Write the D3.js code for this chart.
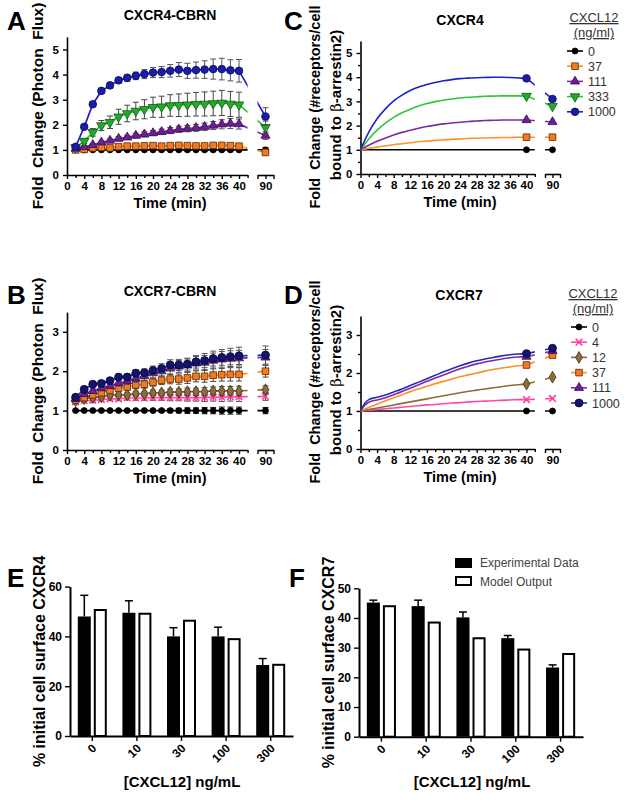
<!DOCTYPE html>
<html><head><meta charset="utf-8">
<script src="https://cdn.jsdelivr.net/npm/d3@7"></script>
<style>
body{margin:0;background:#fff;}
svg{display:block;font-family:"Liberation Sans",Arial,Helvetica,sans-serif;}
text.pre{white-space:pre;}
</style></head><body>
<svg id="fig" width="631" height="804"></svg>
<script>
// ---------------- DATA ----------------
const expTime = [2,4,6,8,10,12,14,16,18,20,22,24,26,28,30,32,34,36,38,40,90];
const modelTimeC = [0,2,4,6,8,10,12,14,16,18,20,22,24,26,28,30,32,34,36,38,40,90];
const modelTimeD = [0,1,2,4,6,8,10,12,14,16,18,20,22,24,26,28,30,32,34,36,38,40,90];
const xTickLabels = [0,4,8,12,16,20,24,28,32,36,40];
const breakTickLabels = [90];
const concCXCR4 = ["0","37","111","333","1000"];
const concCXCR7 = ["0","4","12","37","111","1000"];

// Panel A: CXCR4-CBRN (fold change, mean and error)
const A_0     = [1.00,1.00,1.00,1.00,1.00,1.00,1.00,1.00,1.00,1.00,1.00,1.00,1.00,1.00,1.00,1.00,1.00,1.00,1.00,1.00,1.00];
const A_0_err = [0.02,0.02,0.03,0.03,0.03,0.03,0.03,0.03,0.03,0.04,0.04,0.04,0.04,0.05,0.05,0.05,0.05,0.05,0.05,0.05,0.10];
const A_37     = [1.00,1.02,1.08,1.10,1.08,1.13,1.15,1.15,1.16,1.17,1.15,1.17,1.18,1.17,1.16,1.16,1.18,1.18,1.17,1.15,0.90];
const A_37_err = [0.03,0.04,0.05,0.05,0.05,0.06,0.06,0.06,0.06,0.07,0.07,0.07,0.07,0.07,0.08,0.08,0.08,0.08,0.08,0.08,0.10];
const A_111     = [1.05,1.12,1.20,1.30,1.37,1.45,1.50,1.57,1.62,1.67,1.72,1.77,1.82,1.85,1.88,1.92,1.97,2.02,2.05,2.03,1.57];
const A_111_err = [0.03,0.04,0.05,0.06,0.07,0.08,0.08,0.09,0.10,0.10,0.11,0.12,0.12,0.13,0.14,0.15,0.16,0.18,0.20,0.20,0.15];
const A_333     = [1.10,1.35,1.70,1.97,2.10,2.32,2.45,2.55,2.62,2.70,2.72,2.77,2.78,2.80,2.82,2.83,2.85,2.87,2.83,2.80,1.90];
const A_333_err = [0.05,0.10,0.15,0.20,0.25,0.30,0.33,0.35,0.38,0.40,0.42,0.43,0.45,0.46,0.47,0.48,0.49,0.50,0.50,0.50,0.25];
const A_1000     = [1.12,1.92,2.82,3.35,3.57,3.77,3.87,3.95,4.02,4.08,4.10,4.15,4.20,4.15,4.18,4.20,4.22,4.22,4.17,4.15,2.33];
const A_1000_err = [0.05,0.05,0.10,0.10,0.12,0.12,0.14,0.15,0.18,0.20,0.22,0.25,0.28,0.30,0.32,0.35,0.40,0.43,0.42,0.45,0.35];

// Panel B: CXCR7-CBRN
const B_0     = [1.00,1.00,1.00,1.00,1.00,1.00,1.00,1.00,1.00,1.00,1.00,1.00,1.00,1.00,1.00,1.00,1.00,1.00,1.00,1.00,1.00];
const B_0_err = [0.02,0.02,0.02,0.02,0.02,0.02,0.02,0.02,0.03,0.03,0.04,0.05,0.06,0.07,0.07,0.08,0.08,0.09,0.09,0.09,0.08];
const B_4     = [1.22,1.25,1.26,1.28,1.30,1.30,1.32,1.32,1.32,1.33,1.33,1.33,1.33,1.33,1.33,1.33,1.34,1.34,1.35,1.35,1.36];
const B_4_err = [0.03,0.03,0.04,0.04,0.05,0.05,0.05,0.06,0.06,0.07,0.07,0.08,0.08,0.09,0.09,0.10,0.10,0.11,0.11,0.12,0.10];
const B_12     = [1.25,1.30,1.33,1.35,1.40,1.40,1.40,1.43,1.43,1.45,1.45,1.47,1.47,1.48,1.48,1.48,1.50,1.50,1.50,1.50,1.53];
const B_12_err = [0.03,0.03,0.04,0.04,0.05,0.05,0.05,0.06,0.06,0.07,0.07,0.08,0.08,0.09,0.09,0.10,0.10,0.11,0.11,0.12,0.10];
const B_37     = [1.27,1.33,1.40,1.45,1.52,1.57,1.60,1.65,1.67,1.72,1.77,1.80,1.80,1.83,1.87,1.87,1.90,1.91,1.92,1.92,2.00];
const B_37_err = [0.03,0.04,0.05,0.05,0.06,0.07,0.08,0.09,0.10,0.10,0.11,0.12,0.13,0.14,0.14,0.15,0.16,0.16,0.17,0.17,0.15];
const B_111     = [1.30,1.42,1.50,1.57,1.63,1.70,1.75,1.82,1.88,1.95,2.00,2.07,2.12,2.15,2.20,2.22,2.27,2.30,2.32,2.33,2.35];
const B_111_err = [0.04,0.04,0.05,0.06,0.07,0.08,0.09,0.10,0.11,0.12,0.13,0.14,0.15,0.16,0.17,0.18,0.19,0.20,0.20,0.20,0.20];
const B_1000     = [1.34,1.54,1.67,1.69,1.76,1.85,1.85,1.95,1.96,2.02,2.07,2.16,2.16,2.18,2.24,2.27,2.32,2.35,2.37,2.39,2.41];
const B_1000_err = [0.04,0.04,0.05,0.05,0.06,0.07,0.08,0.09,0.10,0.11,0.12,0.13,0.14,0.15,0.16,0.18,0.19,0.20,0.21,0.22,0.23];

// Panel C: CXCR4 model
const C_0    = [1.00,1.00,1.00,1.00,1.00,1.00,1.00,1.00,1.00,1.00,1.00,1.00,1.00,1.00,1.00,1.00,1.00,1.00,1.00,1.00,1.00,1.00];
const C_37   = [1.00,1.06,1.11,1.16,1.21,1.25,1.29,1.33,1.36,1.39,1.41,1.43,1.45,1.47,1.48,1.49,1.50,1.51,1.51,1.52,1.52,1.52];
const C_111  = [1.00,1.19,1.35,1.49,1.61,1.72,1.81,1.89,1.96,2.02,2.07,2.11,2.14,2.17,2.19,2.21,2.22,2.23,2.23,2.23,2.23,2.15];
const C_333  = [1.00,1.45,1.81,2.10,2.34,2.53,2.68,2.81,2.91,2.99,3.05,3.10,3.14,3.17,3.19,3.21,3.22,3.23,3.23,3.23,3.22,2.80];
const C_1000 = [1.00,1.73,2.28,2.69,3.02,3.26,3.45,3.59,3.70,3.78,3.85,3.90,3.94,3.96,3.98,3.99,4.00,4.00,3.99,3.97,3.95,3.10];

// Panel D: CXCR7 model
const D_0    = [1.00,1.00,1.00,1.00,1.00,1.00,1.00,1.00,1.00,1.00,1.00,1.00,1.00,1.00,1.00,1.00,1.00,1.00,1.00,1.00,1.00,1.00,1.00];
const D_4    = [1.00,1.01,1.02,1.04,1.06,1.08,1.10,1.12,1.14,1.16,1.17,1.19,1.21,1.22,1.24,1.25,1.26,1.27,1.28,1.29,1.30,1.30,1.33];
const D_12   = [1.00,1.02,1.04,1.08,1.12,1.16,1.20,1.24,1.28,1.32,1.36,1.40,1.44,1.48,1.52,1.55,1.58,1.61,1.64,1.67,1.69,1.71,1.89];
const D_37   = [1.00,1.05,1.09,1.18,1.27,1.35,1.43,1.51,1.58,1.65,1.72,1.78,1.84,1.90,1.95,2.00,2.05,2.09,2.13,2.16,2.19,2.21,2.47];
const D_111  = [1.00,1.15,1.23,1.29,1.35,1.43,1.51,1.60,1.69,1.78,1.87,1.95,2.03,2.11,2.18,2.24,2.29,2.33,2.37,2.40,2.42,2.43,2.58];
const D_1000 = [1.00,1.20,1.30,1.36,1.42,1.50,1.58,1.67,1.76,1.85,1.94,2.03,2.11,2.19,2.26,2.32,2.37,2.41,2.45,2.48,2.50,2.51,2.65];

// Panels E/F: surface receptor bars
const concBars = ["0","10","30","100","300"];
const barSeries = ["Experimental Data","Model Output"];
const E_exp     = [48.0,49.5,40.0,40.0,28.5];
const E_exp_err = [8.5,4.8,3.5,3.7,2.6];
const E_model   = [51.0,49.5,46.7,39.3,29.0];
const F_exp     = [45.2,44.0,40.2,33.2,23.3];
const F_exp_err = [0.8,2.0,1.8,0.9,0.9];
const F_model   = [44.3,38.8,33.5,29.7,28.2];

// ---------------- STYLES ----------------
const STY = {
  black : {line:"#000000", fill:"#000000", stroke:"#000000", sym:d3.symbolCircle,  size:28, err:"#222"},
  orange: {line:"#ff8f2a", fill:"#f47a1f", stroke:"#5c2a00", sym:d3.symbolSquare,  size:44, err:"#444"},
  purple: {line:"#7a2ca0", fill:"#6c1f90", stroke:"#3a0a55", sym:d3.symbolTriangle,size:36, err:"#555"},
  green : {line:"#2ec63a", fill:"#22aa2a", stroke:"#0f5a14", sym:d3.symbolTriangle,size:40, rot:true, err:"#444"},
  blue  : {line:"#2020c8", fill:"#1c1cab", stroke:"#0a0a55", sym:d3.symbolCircle,  size:46, err:"#555"},
  pink  : {line:"#ff4aa5", fill:"none",    stroke:"#ff3d9e", sym:d3.symbolTimes,   size:30, stroked:true, err:"#555"},
  brown : {line:"#8c6c3a", fill:"#8a6e3c", stroke:"#3b2a0e", sym:d3.symbolDiamond, size:40, err:"#555"},
  navy  : {line:"#2a2ab8", fill:"#14146e", stroke:"#05053a", sym:d3.symbolCircle,  size:50, err:"#555"}
};

const svg = d3.select("#fig");
svg.append("rect").attr("width",631).attr("height",804).attr("fill","#fff");
const defs = svg.append("defs");

function symPath(st, scale=1){ return d3.symbol().type(st.sym).size(st.size*scale)(); }
function drawMarker(g, st, cx, cy, scale=1){
  g.append("path").attr("d", symPath(st, scale))
   .attr("transform", `translate(${cx},${cy})${st.rot?" rotate(180)":""}`)
   .attr("fill", st.stroked ? "none" : st.fill)
   .attr("stroke", st.stroke).attr("stroke-width", st.stroked?1.6:0.8);
}

function styleAxis(sel, fs){
  sel.select(".domain").attr("stroke","#000").attr("stroke-width",1.6);
  sel.selectAll(".tick line").attr("stroke","#000").attr("stroke-width",1.4);
  sel.selectAll(".tick text").attr("fill","#000").attr("font-weight","bold").attr("font-size",fs);
}

function bold(g, txt, x, y, fs, anchor="middle"){
  return g.append("text").attr("x",x).attr("y",y).attr("text-anchor",anchor)
    .attr("font-weight","bold").attr("font-size",fs).attr("fill","#000").text(txt);
}

// ---------------- TIME-COURSE PANEL ----------------
function timePanel(o){
  const g = svg.append("g");
  const x = d3.scaleLinear().domain([0,42,88,92]).range(o.xr);
  const y = d3.scaleLinear().domain([0,o.yMax]).range([o.y0, o.y0 - o.yMax*o.ppu]);
  const cid = "clip-"+o.id;
  const cp = defs.append("clipPath").attr("id",cid);
  cp.append("rect").attr("x",x(0)-30).attr("y",0).attr("width",x(42)-x(0)+30).attr("height",804);
  cp.append("rect").attr("x",x(88)).attr("y",0).attr("width",x(92)-x(88)+30).attr("height",804);

  const seg1 = d3.scaleLinear().domain([0,42]).range([x(0),x(42)]);
  const seg2 = d3.scaleLinear().domain([88,92]).range([x(88),x(92)]);
  const ax1 = g.append("g").attr("transform",`translate(0,${o.y0})`)
    .call(d3.axisBottom(seg1).tickValues(d3.range(0,43,2)).tickSize(4).tickSizeOuter(0).tickPadding(3)
      .tickFormat(d => xTickLabels.includes(d) ? d : ""));
  const ax2 = g.append("g").attr("transform",`translate(0,${o.y0})`)
    .call(d3.axisBottom(seg2).tickValues([88,90,92]).tickSize(4).tickSizeOuter(0).tickPadding(3)
      .tickFormat(d => breakTickLabels.includes(d) ? d : ""));
  const ay = g.append("g").attr("transform",`translate(${x(0)},0)`)
    .call(d3.axisLeft(y).tickValues(o.yTicks).tickSize(4).tickSizeOuter(0).tickPadding(4)
      .tickFormat(d => Number.isInteger(d) ? d : ""));
  [ax1,ax2,ay].forEach(a=>styleAxis(a,"11.5px"));
  ay.selectAll(".tick").filter(d=>!Number.isInteger(d)).select("line").attr("x2",-2.5);
  ax1.selectAll(".tick").filter(d=>!xTickLabels.includes(d)).select("line").attr("y2",3);

  // titles
  bold(g, o.title, o.titleX, o.titleY, "14px");
  bold(g, "Time (min)", o.xTitleX, o.y0+33, "14.5px");
  bold(g, o.letter, o.letterX, o.letterY, "26px", "start");
  o.yTitle.forEach(t=>{
    const tx = g.append("text").attr("class","pre").attr("transform",`translate(${t.x},${t.y}) rotate(-90)`)
      .attr("text-anchor","middle").attr("font-weight","bold").attr("font-size",t.fs||"16px").attr("fill","#000");
    t.parts.forEach(p=>{
      const ts = tx.append("tspan").text(p.s);
      if(p.greek) ts.attr("font-family","'DejaVu Serif',serif").attr("font-weight","normal");
    });
  });
  return {g,x,y,cid};
}

function drawExp(P, series){
  const line = d3.line().x(d=>P.x(d.t)).y(d=>P.y(d.v));
  series.forEach(s=>{
    const st = STY[s.style];
    const pts = expTime.map((t,i)=>({t, v:s.values[i], e:s.err[i]}));
    P.g.append("path").datum(pts).attr("clip-path",`url(#${P.cid})`).attr("fill","none")
      .attr("stroke",st.line).attr("stroke-width",1.7).attr("d",line);
  });
  series.forEach(s=>{
    const st = STY[s.style];
    const pts = expTime.map((t,i)=>({t, v:s.values[i], e:s.err[i]}));
    const eb = P.g.append("g").attr("stroke",st.err).attr("stroke-width",1);
    pts.forEach(d=>{
      const xx=P.x(d.t), y1=P.y(d.v+d.e), y2=P.y(d.v-d.e);
      eb.append("line").attr("x1",xx).attr("x2",xx).attr("y1",y1).attr("y2",y2);
      eb.append("line").attr("x1",xx-3).attr("x2",xx+3).attr("y1",y1).attr("y2",y1);
      eb.append("line").attr("x1",xx-3).attr("x2",xx+3).attr("y1",y2).attr("y2",y2);
    });
    const mg = P.g.append("g");
    pts.forEach(d=>drawMarker(mg, st, P.x(d.t), P.y(d.v)));
  });
}

function drawModel(P, times, series){
  const curve = d3.line().x(d=>P.x(d.t)).y(d=>P.y(d.v)).curve(d3.curveMonotoneX);
  const straight = d3.line().x(d=>P.x(d.t)).y(d=>P.y(d.v));
  series.forEach(s=>{
    const st = STY[s.style];
    const pts = times.map((t,i)=>({t, v:s.values[i]}));
    P.g.append("path").datum(pts.filter(d=>d.t<=40)).attr("fill","none")
      .attr("stroke",st.line).attr("stroke-width",1.6).attr("d",curve);
    P.g.append("path").datum(pts.filter(d=>d.t>=40)).attr("clip-path",`url(#${P.cid})`).attr("fill","none")
      .attr("stroke",st.line).attr("stroke-width",1.6).attr("d",straight);
  });
  series.forEach(s=>{
    const st = STY[s.style];
    const pts = times.map((t,i)=>({t, v:s.values[i]})).filter(d=>d.t===40||d.t===90);
    const mg = P.g.append("g");
    pts.forEach(d=>drawMarker(mg, st, P.x(d.t), P.y(d.v)));
  });
}

function drawLegend(x, yTitle, concs, styles, textX){
  const g = svg.append("g");
  const cx = x;
  g.append("text").attr("x",cx).attr("y",yTitle).attr("text-anchor","middle").attr("font-size","13px")
    .attr("fill","#333").attr("text-decoration","underline").text("CXCL12");
  g.append("text").attr("x",cx).attr("y",yTitle+15).attr("text-anchor","middle").attr("font-size","13px")
    .attr("fill","#333").attr("text-decoration","underline").text("(ng/ml)");
  concs.forEach((c,i)=>{
    const st = STY[styles[i]];
    const yy = yTitle + 29 + i*15.2;
    g.append("line").attr("x1",textX-21).attr("x2",textX-5).attr("y1",yy).attr("y2",yy)
      .attr("stroke",st.line).attr("stroke-width",1.6);
    drawMarker(g, st, textX-13, yy);
    g.append("text").attr("x",textX).attr("y",yy+4.5).attr("font-size","12.5px").attr("fill","#333").text(c);
  });
}

// ---- Panel A ----
const PA = timePanel({id:"A", xr:[67,67+42*4.3,257.5,273.5], y0:175, ppu:25.1, yMax:5.5, yTicks:[0,1,2,3,4,5],
  title:"CXCR4-CBRN", titleX:170, titleY:20, xTitleX:170, letter:"A", letterX:7, letterY:30,
  yTitle:[{x:43, y:106, fs:"15.5px", parts:[{s:"Fold  Change (Photon  Flux)"}]}]});
drawExp(PA, [
  {values:A_0, err:A_0_err, style:"black"},
  {values:A_37, err:A_37_err, style:"orange"},
  {values:A_111, err:A_111_err, style:"purple"},
  {values:A_333, err:A_333_err, style:"green"},
  {values:A_1000, err:A_1000_err, style:"blue"}]);

// ---- Panel B ----
const PB = timePanel({id:"B", xr:[67,67+42*4.3,257.5,273.5], y0:450, ppu:39.4, yMax:3.5, yTicks:[0,1,2,3],
  title:"CXCR7-CBRN", titleX:170, titleY:296, xTitleX:170, letter:"B", letterX:7, letterY:304,
  yTitle:[{x:43, y:381, fs:"15.5px", parts:[{s:"Fold  Change (Photon  Flux)"}]}]});
drawExp(PB, [
  {values:B_0, err:B_0_err, style:"black"},
  {values:B_4, err:B_4_err, style:"pink"},
  {values:B_12, err:B_12_err, style:"brown"},
  {values:B_37, err:B_37_err, style:"orange"},
  {values:B_111, err:B_111_err, style:"purple"},
  {values:B_1000, err:B_1000_err, style:"navy"}]);

// ---- Panel C ----
const PC = timePanel({id:"C", xr:[360.5,360.5+42*4.15,545,560], y0:174, ppu:24.2, yMax:5.5,
  yTicks:[0,0.5,1,1.5,2,2.5,3,3.5,4,4.5,5],
  title:"CXCR4", titleX:460, titleY:25, xTitleX:460, letter:"C", letterX:284, letterY:30,
  yTitle:[{x:320, y:107, fs:"14.5px", parts:[{s:"Fold  Change (#receptors/cell"}]},
          {x:341, y:105, fs:"15px", parts:[{s:"bound to "},{s:"β",greek:true},{s:"-arrestin2)"}]}]});
drawModel(PC, modelTimeC, [
  {values:C_0, style:"black"},
  {values:C_37, style:"orange"},
  {values:C_111, style:"purple"},
  {values:C_333, style:"green"},
  {values:C_1000, style:"blue"}]);
drawLegend(594, 22, concCXCR4, ["black","orange","purple","green","blue"], 588);

// ---- Panel D ----
const PD = timePanel({id:"D", xr:[360.5,360.5+42*4.15,545,560], y0:449, ppu:38, yMax:3.5,
  yTicks:[0,0.5,1,1.5,2,2.5,3],
  title:"CXCR7", titleX:459, titleY:300, xTitleX:460, letter:"D", letterX:284, letterY:304,
  yTitle:[{x:320, y:382, fs:"14.5px", parts:[{s:"Fold  Change (#receptors/cell"}]},
          {x:341, y:380, fs:"15px", parts:[{s:"bound to "},{s:"β",greek:true},{s:"-arrestin2)"}]}]});
drawModel(PD, modelTimeD, [
  {values:D_0, style:"black"},
  {values:D_4, style:"pink"},
  {values:D_12, style:"brown"},
  {values:D_37, style:"orange"},
  {values:D_111, style:"purple"},
  {values:D_1000, style:"navy"}]);
drawLegend(593, 298, concCXCR7, ["black","pink","brown","orange","purple","navy"], 592);

// ---------------- BAR PANELS ----------------
function barPanel(o){
  const g = svg.append("g");
  const x = d3.scaleBand().domain(concBars).range([o.x0,o.x1]).padding(0);
  const xi = d3.scaleBand().domain(barSeries).range([0,x.bandwidth()]).paddingInner(0.1875).paddingOuter(0.4875);
  const y = d3.scaleLinear().domain([0,o.yMax]).range([o.y0, o.y0 - o.yMax*o.ppu]);
  const bw = xi.bandwidth();
  concBars.forEach((c,i)=>{
    const xe = x(c)+xi(barSeries[0]), xm = x(c)+xi(barSeries[1]);
    const cx = xe + bw/2;
    g.append("line").attr("x1",cx).attr("x2",cx).attr("y1",y(o.exp[i])).attr("y2",y(o.exp[i]+o.err[i]))
      .attr("stroke","#000").attr("stroke-width",1.5);
    g.append("line").attr("x1",cx-4).attr("x2",cx+4).attr("y1",y(o.exp[i]+o.err[i])).attr("y2",y(o.exp[i]+o.err[i]))
      .attr("stroke","#000").attr("stroke-width",1.5);
    g.append("rect").attr("x",xe).attr("y",y(o.exp[i])).attr("width",bw).attr("height",y(0)-y(o.exp[i])).attr("fill","#000");
    g.append("rect").attr("x",xm+1).attr("y",y(o.model[i])+1).attr("width",bw-2).attr("height",y(0)-y(o.model[i])-1)
      .attr("fill","#fff").attr("stroke","#000").attr("stroke-width",2);
  });
  const ax = g.append("g").attr("transform",`translate(0,${o.y0})`)
    .call(d3.axisBottom(x).tickSize(5).tickSizeOuter(0));
  const ay = g.append("g").attr("transform",`translate(${o.x0},0)`)
    .call(d3.axisLeft(y).tickValues(o.yTicks).tickSize(5).tickSizeOuter(0).tickPadding(3));
  [ax,ay].forEach(a=>styleAxis(a,"12px"));
  ax.select(".domain").attr("stroke-width",2); ay.select(".domain").attr("stroke-width",2);
  ax.selectAll(".tick text").attr("y",null).attr("dy","0.35em").attr("text-anchor","end")
    .attr("transform","translate(2,10) rotate(-45)");
  bold(g, "[CXCL12] ng/mL", o.xTitleX, 787, "15px");
  bold(g, o.letter, o.letterX, 587, "26px", "start");
  g.append("text").attr("transform",`translate(${o.yTitleX},${(o.y0 + y(o.yMax))/2}) rotate(-90)`)
    .attr("text-anchor","middle").attr("font-weight","bold").attr("font-size","16px").attr("fill","#000").text(o.yTitle);
  return {g,x,y};
}

barPanel({x0:70, x1:293, y0:736, ppu:2.49, yMax:60, yTicks:[0,20,40,60],
  exp:E_exp, err:E_exp_err, model:E_model, xTitleX:182, letter:"E", letterX:7,
  yTitleX:45, yTitle:"% initial cell surface CXCR4"});
barPanel({x0:359, x1:583, y0:736.7, ppu:2.968, yMax:50, yTicks:[0,10,20,30,40,50],
  exp:F_exp, err:F_exp_err, model:F_model, xTitleX:472, letter:"F", letterX:289,
  yTitleX:334, yTitle:"% initial cell surface CXCR7"});

// legend for F
const lg = svg.append("g");
lg.append("rect").attr("x",455).attr("y",558).attr("width",17).attr("height",10).attr("fill","#000");
lg.append("rect").attr("x",456).attr("y",577).attr("width",15).attr("height",8).attr("fill","#fff").attr("stroke","#000").attr("stroke-width",2);
lg.append("text").attr("x",480).attr("y",567).attr("font-size","12px").attr("fill","#444").text(barSeries[0]);
lg.append("text").attr("x",480).attr("y",586).attr("font-size","12px").attr("fill","#444").text(barSeries[1]);
</script>
</body></html>
